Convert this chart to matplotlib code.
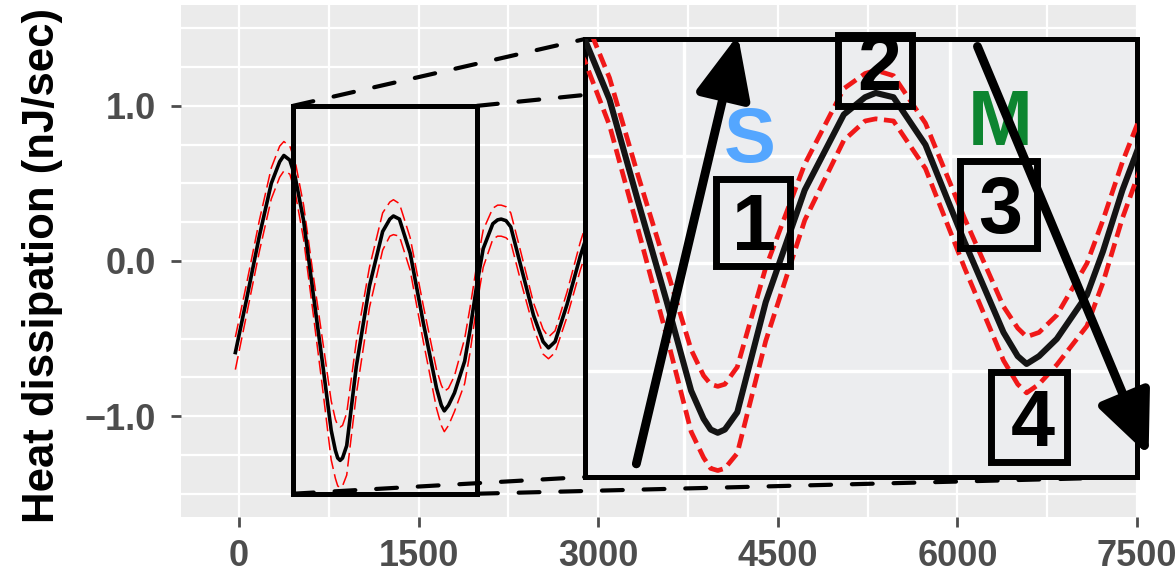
import matplotlib
matplotlib.use("Agg")
import matplotlib.pyplot as plt
from matplotlib.patches import Rectangle, ConnectionPatch
from matplotlib.ticker import FixedLocator, MultipleLocator

# smoothed heat dissipation trace with upper / lower bands
t = [-30, 60, 170, 270, 340, 375, 425, 470, 540, 620, 700, 770, 805, 825, 845,
     865, 900, 980, 1090, 1200, 1260, 1290, 1340, 1430, 1540, 1650, 1690, 1715,
     1750, 1800, 1885, 1930, 1985, 2040, 2120, 2160, 2190, 2230, 2270, 2350, 2460,
     2540, 2585, 2640, 2740, 2850, 2900]
heat = [-0.59, -0.26, 0.16, 0.50, 0.64, 0.68, 0.65, 0.54, 0.26, -0.21, -0.67,
        -1.09, -1.22, -1.27, -1.285, -1.27, -1.19, -0.68, -0.16, 0.19, 0.27, 0.29,
        0.27, 0.05, -0.40, -0.82, -0.93, -0.966, -0.93, -0.85, -0.646, -0.445,
        -0.16, 0.08, 0.24, 0.265, 0.27, 0.26, 0.22, -0.02, -0.35, -0.52, -0.56,
        -0.52, -0.28, 0.03, 0.15]
heat_hi = [-0.49, -0.16, 0.26, 0.60, 0.74, 0.77, 0.74, 0.64, 0.36, -0.09, -0.52,
           -0.90, -1.02, -1.06, -1.07, -1.06, -0.98, -0.52, -0.04, 0.31, 0.38,
           0.395, 0.37, 0.15, -0.29, -0.70, -0.80, -0.84, -0.82, -0.74, -0.50,
           -0.30, -0.03, 0.20, 0.34, 0.36, 0.36, 0.35, 0.31, 0.07, -0.27, -0.44,
           -0.49, -0.45, -0.20, 0.12, 0.24]
heat_lo = [-0.70, -0.36, 0.06, 0.40, 0.54, 0.58, 0.56, 0.44, 0.14, -0.34, -0.83,
           -1.28, -1.40, -1.45, -1.46, -1.45, -1.38, -0.86, -0.30, 0.07, 0.16,
           0.17, 0.16, -0.06, -0.52, -0.95, -1.06, -1.10, -1.06, -0.97, -0.79,
           -0.59, -0.29, -0.04, 0.14, 0.16, 0.16, 0.15, 0.12, -0.12, -0.43, -0.60,
           -0.63, -0.59, -0.36, -0.06, 0.06]

xticks = [0, 1500, 3000, 4500, 6000, 7500]
yticks = [-1.0, 0.0, 1.0]
ytick_labels = ["\u22121.0", "0.0", "1.0"]

# zoomed window and the range shown in the inset
zoom_x = (451, 1988)
zoom_y = (-1.5, 1.0)
ins_xlim = (471, 2026)
ins_ylim = (-1.49, 0.54)

plt.rcParams['font.family'] = ['Liberation Sans', 'DejaVu Sans']
plt.rcParams['font.weight'] = 'bold'

fig = plt.figure(figsize=(11.76, 5.78), dpi=100)
ax = fig.add_axes([181/1176, 61/578, 956/1176, 512/578])
bg = '#EBEBEB'
ax.set_facecolor(bg)
for s in ax.spines.values():
    s.set_visible(False)

ax.plot(t, heat_hi, color='red', lw=1.1, dashes=(9, 3.5), zorder=3)
ax.plot(t, heat_lo, color='red', lw=1.1, dashes=(9, 3.5), zorder=3)
ax.plot(t, heat, color='black', lw=2.6, zorder=4)

ax.set_xlim(-484, 7500)
ax.set_ylim(-1.65, 1.65)
ax.xaxis.set_major_locator(FixedLocator(xticks))
ax.xaxis.set_minor_locator(MultipleLocator(750))
ax.yaxis.set_major_locator(FixedLocator(yticks))
ax.yaxis.set_minor_locator(MultipleLocator(0.25))
ax.set_yticklabels(ytick_labels)
ax.grid(which='both', color='white', lw=1.6, zorder=0)
ax.set_axisbelow(True)
ax.tick_params(which='major', length=7, width=2, color='#4D4D4D',
               labelsize=26, labelcolor='#4D4D4D')
ax.tick_params(axis='x', pad=9)
ax.tick_params(axis='y', pad=11)
ax.tick_params(which='minor', length=0)

fig.text(43/1176, 0.54, 'Heat dissipation (nJ/sec)', rotation=90,
         ha='center', va='center', fontsize=31.5, fontweight='bold')

# box around zoomed window
ax.add_patch(Rectangle((zoom_x[0], zoom_y[0]), zoom_x[1] - zoom_x[0],
                       zoom_y[1] - zoom_y[0], fill=False, lw=3.6,
                       edgecolor='black', zorder=5))

# inset
axins = fig.add_axes([585/1176, 101/578, 552/1176, 438/578])
axins.set_facecolor('#ECEDEF')
for s in axins.spines.values():
    s.set_linewidth(3.6)
    s.set_color('black')
axins.plot(t, heat_hi, color='#F01818', lw=3.4, dashes=(3, 1.4), zorder=3)
axins.plot(t, heat_lo, color='#F01818', lw=3.4, dashes=(3, 1.4), zorder=3)
axins.plot(t, heat, color='#141414', lw=4.4, zorder=4)
axins.set_xlim(*ins_xlim)
axins.set_ylim(*ins_ylim)
axins.set_xticks([750, 1500])
axins.set_yticks([-1.0, -0.5, 0.0])
axins.grid(color='white', lw=2.4, zorder=0)
axins.set_axisbelow(True)
axins.tick_params(length=0, labelbottom=False, labelleft=False)

# dashed connectors from window corners to inset corners
corners = [((zoom_x[0], zoom_y[1]), (0, 1)), ((zoom_x[1], zoom_y[1]), (1, 1)),
           ((zoom_x[0], zoom_y[0]), (0, 0)), ((zoom_x[1], zoom_y[0]), (1, 0))]
for a, b in corners:
    con = ConnectionPatch(xyA=a, coordsA=ax.transData, xyB=b,
                          coordsB=axins.transAxes, color='black', lw=3,
                          linestyle=(0, (5, 5)), zorder=2)
    ax.add_artist(con)

# labels, numbered boxes and arrows inside the inset
axins.text(0.299, 0.767, 'S', color='#54A6FF', fontsize=56, fontweight='bold',
           ha='center', va='center', transform=axins.transAxes, zorder=6)
axins.text(0.753, 0.804, 'M', color='#0D8530', fontsize=56, fontweight='bold',
           ha='center', va='center', transform=axins.transAxes, zorder=6)

boxes = [(0.237, 0.482, 0.371, 0.681), (0.458, 0.846, 0.593, 1.009),
         (0.680, 0.523, 0.818, 0.722), (0.735, 0.034, 0.873, 0.239)]
digits = [(0.306, 0.566, '1'), (0.533, 0.930, '2'),
          (0.753, 0.604, '3'), (0.811, 0.118, '4')]
for (u0, v0, u1, v1) in boxes:
    axins.add_patch(Rectangle((u0, v0), u1 - u0, v1 - v0, fill=False, lw=5,
                              edgecolor='black', transform=axins.transAxes,
                              clip_on=False, zorder=7))
for u, v, d in digits:
    axins.text(u, v, d, fontsize=57, fontweight='bold', ha='center',
               va='center', transform=axins.transAxes, zorder=7)

arrow_style = '-|>,head_length=0.95,head_width=0.42'
axins.annotate('', xy=(0.277, 1.009), xytext=(0.093, 0.030),
               xycoords='axes fraction', annotation_clip=False,
               arrowprops=dict(arrowstyle=arrow_style, lw=6.4, color='black',
                               shrinkA=0, shrinkB=0, mutation_scale=40,
                               clip_on=False), zorder=8)
axins.annotate('', xy=(1.021, 0.049), xytext=(0.711, 0.983),
               xycoords='axes fraction', annotation_clip=False,
               arrowprops=dict(arrowstyle=arrow_style, lw=6.4, color='black',
                               shrinkA=0, shrinkB=0, mutation_scale=40,
                               clip_on=False), zorder=8)

fig.savefig('out.png', dpi=100)
